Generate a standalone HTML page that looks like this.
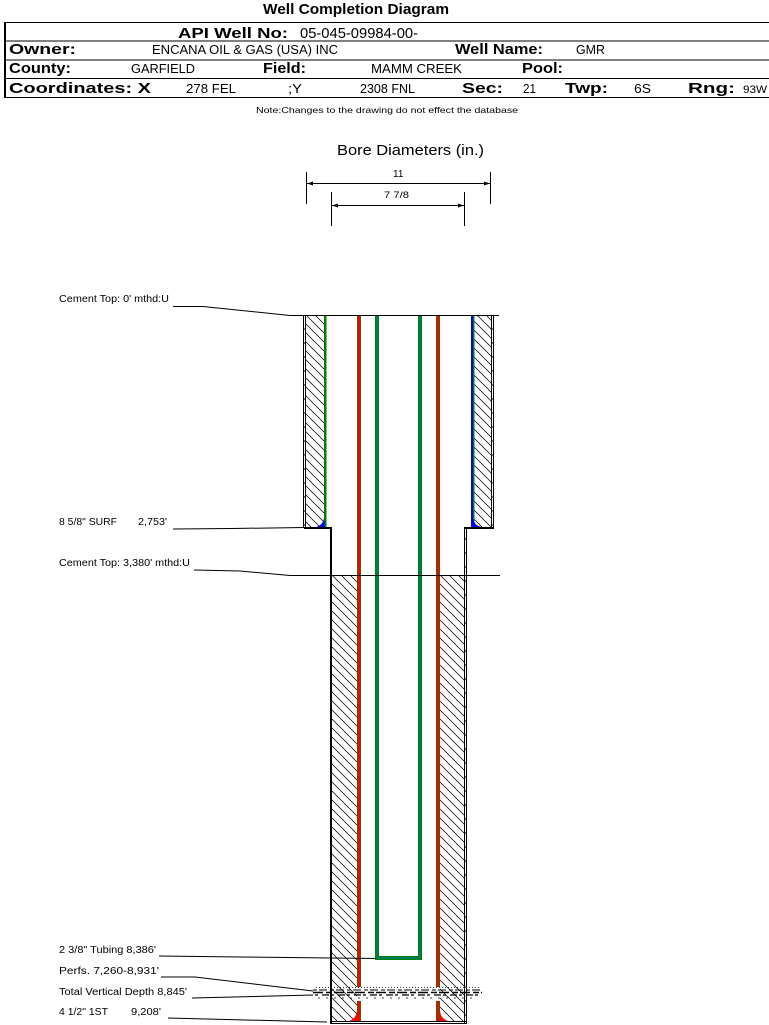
<!DOCTYPE html>
<html><head><meta charset="utf-8"><style>
html,body{margin:0;padding:0;background:#fff;}
svg{display:block;}
text{font-family:"Liberation Sans",Arial,sans-serif;fill:#000;}
.t{font-weight:bold;font-size:15px;}
.b{font-weight:bold;font-size:15px;}
.r{font-size:13px;}
.l{font-size:10px;}
</style></head><body>
<svg width="769" height="1025" viewBox="0 0 769 1025" xmlns="http://www.w3.org/2000/svg">
<defs>
<pattern id="h" patternUnits="userSpaceOnUse" width="9" height="9">
<path d="M-1,-1 L10,10 M-1,8 L1,10 M8,-1 L10,1" stroke="#000" stroke-width="0.75"/>
</pattern>
<pattern id="tk" patternUnits="userSpaceOnUse" width="4" height="14">
<line x1="0" y1="7" x2="4" y2="7" stroke="#000" stroke-width="1"/>
</pattern>
</defs>

<!-- Title -->
<text x="263" y="14" class="t" textLength="186" lengthAdjust="spacingAndGlyphs">Well Completion Diagram</text>

<!-- Header table lines -->
<g stroke="#000" stroke-width="1">
<line x1="4" y1="22.5" x2="769" y2="22.5"/>
<line x1="4" y1="41" x2="769" y2="41"/>
<line x1="4" y1="60" x2="769" y2="60"/>
<line x1="4" y1="78.5" x2="769" y2="78.5"/>
<line x1="4" y1="97.5" x2="769" y2="97.5"/>
</g>
<rect x="4" y="22" width="2" height="76" fill="#000"/>

<!-- Row 1 -->
<text x="178" y="38" class="b" textLength="110" lengthAdjust="spacingAndGlyphs">API Well No:</text>
<text x="300" y="38" font-size="15" textLength="118" lengthAdjust="spacingAndGlyphs">05-045-09984-00-</text>

<!-- Row 2 -->
<text x="9" y="54" class="b" textLength="67" lengthAdjust="spacingAndGlyphs">Owner:</text>
<text x="152" y="54" class="r" textLength="186" lengthAdjust="spacingAndGlyphs">ENCANA OIL &amp; GAS (USA) INC</text>
<text x="455" y="54" class="b" textLength="88" lengthAdjust="spacingAndGlyphs">Well Name:</text>
<text x="576" y="54" class="r" textLength="29" lengthAdjust="spacingAndGlyphs">GMR</text>

<!-- Row 3 -->
<text x="9" y="73" class="b" textLength="62" lengthAdjust="spacingAndGlyphs">County:</text>
<text x="131" y="73" class="r" textLength="64" lengthAdjust="spacingAndGlyphs">GARFIELD</text>
<text x="263" y="73" class="b" textLength="43" lengthAdjust="spacingAndGlyphs">Field:</text>
<text x="371" y="73" class="r" textLength="91" lengthAdjust="spacingAndGlyphs">MAMM CREEK</text>
<text x="522" y="73" class="b" textLength="41" lengthAdjust="spacingAndGlyphs">Pool:</text>

<!-- Row 4 -->
<text x="9" y="93" class="b" textLength="142" lengthAdjust="spacingAndGlyphs">Coordinates: X</text>
<text x="186" y="93" class="r" textLength="50" lengthAdjust="spacingAndGlyphs">278 FEL</text>
<text x="288" y="93" class="r" textLength="14" lengthAdjust="spacingAndGlyphs">;Y</text>
<text x="360" y="93" class="r" textLength="55" lengthAdjust="spacingAndGlyphs">2308 FNL</text>
<text x="462" y="93" class="b" textLength="41" lengthAdjust="spacingAndGlyphs">Sec:</text>
<text x="523" y="93" class="r" textLength="13" lengthAdjust="spacingAndGlyphs">21</text>
<text x="565" y="93" class="b" textLength="43" lengthAdjust="spacingAndGlyphs">Twp:</text>
<text x="634" y="93" class="r" textLength="17" lengthAdjust="spacingAndGlyphs">6S</text>
<text x="688" y="93" class="b" textLength="47" lengthAdjust="spacingAndGlyphs">Rng:</text>
<text x="743" y="93" font-size="11" textLength="24" lengthAdjust="spacingAndGlyphs">93W</text>

<!-- Note -->
<text x="256" y="113" font-size="8.5" textLength="262" lengthAdjust="spacingAndGlyphs">Note:Changes to the drawing do not effect the database</text>

<!-- Bore diameters -->
<text x="337" y="155" font-size="15" textLength="147" lengthAdjust="spacingAndGlyphs">Bore Diameters (in.)</text>
<text x="393" y="177" font-size="10">11</text>
<text x="384" y="198" font-size="9.5" textLength="25" lengthAdjust="spacingAndGlyphs">7 7/8</text>
<g stroke="#000" stroke-width="1">
<line x1="306" y1="183.5" x2="491" y2="183.5"/>
<line x1="306.5" y1="172" x2="306.5" y2="204"/>
<line x1="490.5" y1="172" x2="490.5" y2="204"/>
<line x1="331" y1="205.5" x2="465" y2="205.5"/>
<line x1="331.5" y1="192" x2="331.5" y2="226"/>
<line x1="464.5" y1="192" x2="464.5" y2="226"/>
</g>
<g fill="#000">
<polygon points="307,183.5 313,181.5 313,185.5"/>
<polygon points="490,183.5 484,181.5 484,185.5"/>
<polygon points="332,205.5 338,203.5 338,207.5"/>
<polygon points="464,205.5 458,203.5 458,207.5"/>
</g>

<!-- Hatching -->
<rect x="306" y="315" width="18" height="213" fill="url(#h)"/>
<rect x="474" y="315" width="17" height="213" fill="url(#h)"/>
<rect x="332" y="575" width="25" height="446" fill="url(#h)"/>
<rect x="440" y="575" width="24" height="446" fill="url(#h)"/>

<!-- Surface hole walls -->
<g stroke="#000" stroke-width="1">
<line x1="303.5" y1="315" x2="303.5" y2="528"/>
<line x1="305.5" y1="315" x2="305.5" y2="528"/>
<line x1="491.5" y1="315" x2="491.5" y2="528"/>
<line x1="493.5" y1="315" x2="493.5" y2="528"/>
<line x1="464.5" y1="528" x2="464.5" y2="1023"/>
<line x1="466.5" y1="528" x2="466.5" y2="1023"/>
<line x1="330" y1="1021.5" x2="467" y2="1021.5"/>
<line x1="330" y1="1023.5" x2="467" y2="1023.5"/>
</g>
<rect x="303" y="315" width="3" height="213" fill="url(#tk)"/>
<rect x="491" y="315" width="3" height="213" fill="url(#tk)"/>
<rect x="464" y="528" width="3" height="494" fill="url(#tk)"/>
<g stroke="#000" stroke-width="2">
<line x1="304" y1="528" x2="332" y2="528"/>
<line x1="464" y1="528" x2="494" y2="528"/>
<line x1="331" y1="527" x2="331" y2="1024"/>
</g>

<!-- Surface casing -->
<rect x="324" y="315" width="2.5" height="212" fill="#008000"/>
<rect x="471" y="315" width="2" height="212" fill="#0000ff"/>
<rect x="473" y="315" width="1.5" height="212" fill="#008000"/>
<path d="M316,527 Q323,525 324,518 L325,527 Z" fill="#0000ff"/>
<path d="M473,518 Q474,525 481,527 L473,527 Z" fill="#0000ff"/>

<!-- Production casing (red w/ green edges) -->
<rect x="357" y="315" width="4" height="672" fill="#008000"/>
<rect x="357.7" y="315" width="2.6" height="672" fill="#ff0000"/>
<rect x="357" y="1001" width="4" height="20" fill="#008000"/>
<rect x="357.7" y="1001" width="2.6" height="20" fill="#ff0000"/>
<rect x="436" y="315" width="4" height="672" fill="#008000"/>
<rect x="436.7" y="315" width="2.6" height="672" fill="#ff0000"/>
<rect x="436" y="1001" width="4" height="20" fill="#008000"/>
<rect x="436.7" y="1001" width="2.6" height="20" fill="#ff0000"/>
<path d="M349,1021 Q356,1019 357,1011 L358,1021 Z" fill="#ff0000"/>
<path d="M440,1011 Q441,1019 448,1021 L440,1021 Z" fill="#ff0000"/>

<!-- Tubing -->
<path d="M377,315 V958 H420 V315" fill="none" stroke="#008000" stroke-width="4"/>
<path d="M377,315 V958 H420 V315" fill="none" stroke="#007878" stroke-width="1.6"/>

<!-- Top / cement lines -->
<g stroke="#000" stroke-width="1" fill="none">
<polyline points="173,306.5 203,306.5 290,315.5 499,315.5"/>
<polyline points="173,529 232,528.5 305,527.5"/>
<polyline points="194,570 240,571 290,575.5 500,575.5"/>
<polyline points="159,956 240,957 376,958.5"/>
<polyline points="161,977 195,977 313,991"/>
<polyline points="192,998 313,995"/>
<polyline points="168,1018 327,1022"/>
</g>

<!-- Perforation marks -->
<g stroke="#000" fill="none">
<line x1="316" y1="987.5" x2="480" y2="987.5" stroke-width="0.8" stroke-dasharray="1,2"/>
<line x1="313" y1="990" x2="482" y2="990" stroke-width="1" stroke-dasharray="4,2,8,3"/>
<line x1="313" y1="992.5" x2="482" y2="992.5" stroke-width="1.6" stroke-dasharray="10,3,6,2"/>
<line x1="315" y1="995" x2="480" y2="995" stroke-width="1.2" stroke-dasharray="3,4,7,2"/>
<line x1="318" y1="998" x2="478" y2="998" stroke-width="0.8" stroke-dasharray="2,6"/>
</g>

<!-- Labels -->
<text x="59" y="302" class="l" textLength="110" lengthAdjust="spacingAndGlyphs">Cement Top: 0' mthd:U</text>
<text x="59" y="525" class="l" textLength="58" lengthAdjust="spacingAndGlyphs">8 5/8" SURF</text>
<text x="138" y="525" class="l" textLength="29" lengthAdjust="spacingAndGlyphs">2,753'</text>
<text x="59" y="566" class="l" textLength="131" lengthAdjust="spacingAndGlyphs">Cement Top: 3,380' mthd:U</text>
<text x="59" y="953" class="l" textLength="97" lengthAdjust="spacingAndGlyphs">2 3/8" Tubing 8,386'</text>
<text x="59" y="974" class="l" textLength="100" lengthAdjust="spacingAndGlyphs">Perfs. 7,260-8,931'</text>
<text x="59" y="995" class="l" textLength="128" lengthAdjust="spacingAndGlyphs">Total Vertical Depth 8,845'</text>
<text x="59" y="1015" class="l" textLength="49" lengthAdjust="spacingAndGlyphs">4 1/2" 1ST</text>
<text x="131" y="1015" class="l" textLength="30" lengthAdjust="spacingAndGlyphs">9,208'</text>
</svg>
</body></html>
